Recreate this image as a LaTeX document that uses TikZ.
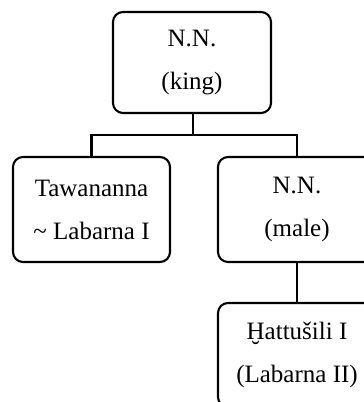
\documentclass[tikz,border=0pt]{standalone}
\usepackage{fontspec}
\setmainfont{Liberation Serif}
\begin{document}
\begin{tikzpicture}[
    person/.style={draw, line width=2.1pt, rounded corners=10pt, minimum width=158pt, minimum height=103pt,
                   align=center, font=\fontsize{25}{43}\selectfont},
    tie/.style={line width=2.8pt}
]
\useasboundingbox (0,0) rectangle (364pt,-402pt);
\clip (0,0) rectangle (364pt,-402pt);

% Family members
\node[person, minimum height=101pt] (king) at (192pt,-62.5pt) {N.N.\\(king)};
\node[person, minimum width=157pt, minimum height=105pt] (tawananna) at (91.5pt,-209.5pt) {Tawananna\\\textasciitilde\ Labarna I};
\node[person, minimum height=105pt] (male) at (297pt,-209.5pt) {N.N.\\(male)};
\node[person, minimum height=104pt] (hattusili) at (297pt,-355pt) {Ḫattušili I\\(Labarna II)};

% Lines of descent
\coordinate (fork) at (193pt,-135pt);
\draw[tie] (king.south -| fork) -- (fork);
\draw[tie] (tawananna.north) |- (fork) -| (male.north);
\draw[tie] (male.south) -- (hattusili.north);
\end{tikzpicture}
\end{document}
